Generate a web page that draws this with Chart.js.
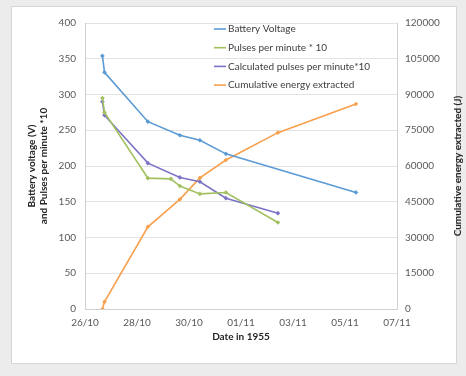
<!DOCTYPE html>
<html>
<head>
<meta charset="utf-8">
<script src="https://cdn.jsdelivr.net/npm/chart.js@4/dist/chart.umd.min.js"></script>
<style>
  html, body { margin: 0; padding: 0; background: #f1f1f1; }
</style>
</head>
<body>
<canvas id="grafico" width="466" height="376"></canvas>
<script>
// x values are days counted from 26/10/1955 00:00
const dateLabels = ['26/10', '28/10', '30/10', '01/11', '03/11', '05/11', '07/11'];

const batteryDays = [0.67, 0.75, 2.42, 3.65, 4.42, 5.42, 10.42];
const batteryVolts = [354, 331, 262, 243, 236, 217, 163];

const pulseDays = [0.67, 0.75, 2.42, 3.3, 3.65, 4.42, 5.42, 7.42];
const pulses = [295, 275, 183, 182, 172, 161, 163, 121];

const calcDays = [0.67, 0.75, 2.42, 3.65, 4.42, 5.42, 7.42];
const calcPulses = [290, 271, 204, 184, 178, 155, 134];

const energyDays = [0.67, 0.75, 2.42, 3.65, 4.42, 5.42, 7.42, 10.42];
const energy = [0, 3000, 34500, 46000, 55000, 62500, 74000, 86000];

const ctx = document.getElementById('grafico');
const FONT = 'Lato';

function toPoints(xs, ys) {
    return xs.map((x, i) => ({ x: x, y: ys[i] }));
}

function serie(label, xs, ys, color, axis) {
    return {
        label: label,
        data: toPoints(xs, ys),
        yAxisID: axis,
        borderColor: color,
        backgroundColor: color,
        borderWidth: 1.6,
        pointRadius: 1.2,
        pointStyle: 'rectRot',
        tension: 0
    };
}

// page frame behind the chart
const frame = {
    id: 'frame',
    beforeDraw(chart) {
        const c = chart.ctx;
        c.save();
        c.fillStyle = '#ececec';
        c.fillRect(0, 0, chart.width, chart.height);
        c.fillStyle = '#ffffff';
        c.fillRect(11, 6, 446, 358);
        c.strokeStyle = '#d6d6d6';
        c.lineWidth = 1;
        c.strokeRect(11.5, 6.5, 445, 357);
        c.restore();
    }
};

// legend drawn inside the plot, top right
const legendBox = {
    id: 'legendBox',
    afterDraw(chart) {
        const c = chart.ctx;
        c.save();
        c.font = '10px ' + FONT;
        c.textBaseline = 'middle';
        chart.data.datasets.forEach((ds, i) => {
            const y = 29 + i * 18.7;
            c.strokeStyle = ds.borderColor;
            c.lineWidth = 1.6;
            c.beginPath();
            c.moveTo(214, y);
            c.lineTo(226, y);
            c.stroke();
            c.fillStyle = '#404040';
            c.fillText(ds.label, 228, y);
        });
        c.restore();
    }
};

// right axis title, read bottom to top
const rightTitle = {
    id: 'rightTitle',
    afterDraw(chart) {
        const c = chart.ctx;
        const area = chart.chartArea;
        c.save();
        c.translate(458, (area.top + area.bottom) / 2);
        c.rotate(-Math.PI / 2);
        c.font = 'bold 10px ' + FONT;
        c.fillStyle = '#262626';
        c.textAlign = 'center';
        c.textBaseline = 'middle';
        c.fillText('Cumulative energy extracted (J)', 0, 0);
        c.restore();
    }
};

new Chart(ctx, {
    type: 'line',
    data: {
        datasets: [
            serie('Battery Voltage', batteryDays, batteryVolts, '#5b9bd5', 'y'),
            serie('Pulses per minute * 10', pulseDays, pulses, '#a2c05e', 'y'),
            serie('Calculated pulses per minute*10', calcDays, calcPulses, '#7b74c6', 'y'),
            serie('Cumulative energy extracted', energyDays, energy, '#f7a04e', 'y1')
        ]
    },
    options: {
        responsive: false,
        animation: false,
        layout: { padding: { top: 23, left: 0, right: 0, bottom: 0 } },
        plugins: {
            legend: { display: false },
            tooltip: { enabled: false }
        },
        scales: {
            x: {
                type: 'linear',
                min: 0,
                max: 12,
                ticks: {
                    stepSize: 2,
                    padding: 8,
                    color: '#595959',
                    font: { family: FONT, size: 10 },
                    callback: v => dateLabels[v / 2]
                },
                grid: { drawOnChartArea: false, drawTicks: false },
                border: { color: '#d0d0d0' },
                title: {
                    display: true,
                    text: 'Date in 1955',
                    color: '#262626',
                    font: { family: FONT, size: 10, weight: 'bold' },
                    padding: { top: 0, bottom: 33 }
                },
                afterFit: s => { s.height = 67; }
            },
            y: {
                position: 'left',
                min: 0,
                max: 400,
                ticks: {
                    stepSize: 50,
                    padding: 9,
                    color: '#595959',
                    font: { family: FONT, size: 10 }
                },
                grid: { color: '#e3e3e3', drawTicks: false },
                border: { color: '#d0d0d0' },
                title: {
                    display: true,
                    text: ['Battery voltage (V)', 'and Pulses per minute *10'],
                    color: '#262626',
                    font: { family: FONT, size: 10, weight: 'bold' },
                    padding: { top: 26, bottom: 0 }
                },
                afterFit: s => { s.width = 85; }
            },
            y1: {
                position: 'right',
                min: 0,
                max: 120000,
                ticks: {
                    stepSize: 15000,
                    padding: 8,
                    color: '#595959',
                    font: { family: FONT, size: 10 },
                    callback: v => String(v)
                },
                grid: { drawOnChartArea: false, drawTicks: false },
                border: { color: '#d0d0d0' },
                afterFit: s => { s.width = 69; }
            }
        }
    },
    plugins: [frame, legendBox, rightTitle]
});
</script>
</body>
</html>
